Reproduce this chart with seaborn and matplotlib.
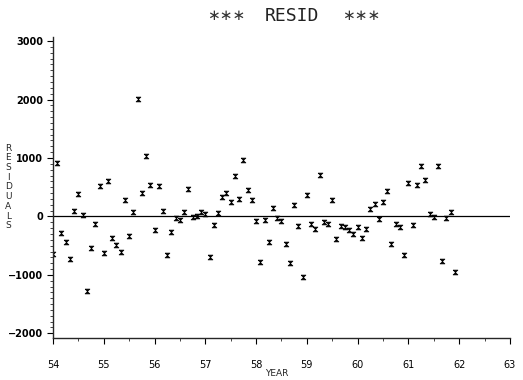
import numpy as np
import pandas as pd
import matplotlib
matplotlib.use("Agg")
import matplotlib.pyplot as plt
from matplotlib.ticker import MultipleLocator
import seaborn as sns

# ==========================================
# DATA (monthly residuals, 1954 - 1961)
# ==========================================

start_year = 54
n_months = 96

resid = [
    -645, 914, -283, -430, -720, 92, 389, 31, -1270, -532, -131, 521,
    -625, 614, -361, -497, -611, 281, -339, 78, 2015, 406, 1035, 540,
    -235, 525, 98, -655, -260, -31, -57, 69, 464, -2, 4, 69,
    41, -690, -140, 66, 331, 406, 253, 694, 294, 958, 458, 288,
    -71, -784, -69, -439, 144, -31, -81, -469, -793, 201, -161, -1030,
    375, -137, -222, 716, -94, -121, 274, -382, -164, -175, -225, -297,
    -181, -364, -220, 123, 217, -51, 246, 436, -476, -132, -182, -661,
    573, -153, 546, 856, 617, 36, -14, 867, -759, -21, 76, -944,
]

year = start_year + np.arange(n_months) / 12.0

df = pd.DataFrame({"year": year, "resid": resid})

y_ticks = [-2000, -1000, 0, 1000, 2000, 3000]
x_ticks = [54, 55, 56, 57, 58, 59, 60, 61, 62, 63]

# ==========================================
# PLOT
# ==========================================

sns.set_style("ticks")
plt.rcParams["font.family"] = ["DejaVu Sans"]

fig = plt.figure(figsize=(5.23, 3.80), dpi=100)
ax = fig.add_axes([0.1013, 0.1105, 0.8737, 0.7921])

# plotter symbol: X with top / bottom bars
marker_verts = [(-1, 1), (1, 1), (-1, -1), (1, -1), (-1, 1)]

sns.scatterplot(
    data=df,
    x="year",
    y="resid",
    marker=marker_verts,
    s=12,
    color="black",
    edgecolor="black",
    linewidth=0.5,
    ax=ax
)

ax.axhline(0, color="black", linewidth=0.9, zorder=0)

ax.set_xlim(54, 63)
ax.set_ylim(-2080, 3070)

ax.set_xticks(x_ticks)
ax.set_xticklabels([str(t) for t in x_ticks])
ax.set_yticks(y_ticks)
ax.set_yticklabels([str(t).replace("-", "\u2212") for t in y_ticks])

ax.xaxis.set_minor_locator(MultipleLocator(0.5))
ax.yaxis.set_minor_locator(MultipleLocator(100))

ax.tick_params(axis="x", which="major", length=4, width=0.8, pad=12,
               labelsize=7, colors="black")
ax.tick_params(axis="x", which="minor", length=2, width=0.6)
ax.tick_params(axis="y", which="major", length=4, width=0.8, pad=3,
               labelsize=7, colors="black")
ax.tick_params(axis="y", which="minor", length=2, width=0.6)

for lbl in ax.get_yticklabels():
    lbl.set_fontweight("bold")

sns.despine(ax=ax)
ax.spines["left"].set_linewidth(1.0)
ax.spines["bottom"].set_linewidth(1.0)

ax.set_xlabel("")
ax.set_ylabel("")

# ==========================================
# TEXTS
# ==========================================

title_y = 0.958
fig.text(0.433, title_y, "\u2217\u2217\u2217", ha="center", va="center",
         fontsize=11, color="#333333")
fig.text(0.559, title_y, "RESID", ha="center", va="center",
         fontsize=13, family="DejaVu Sans Mono", color="#222222")
fig.text(0.690, title_y, "\u2217\u2217\u2217", ha="center", va="center",
         fontsize=11, color="#333333")

fig.text(0.016, 0.508, "\n".join("RESIDUALS"),
         ha="center", va="center", fontsize=6.5, linespacing=1.1)

fig.text(0.53, 0.004, "YEAR", ha="center", va="bottom", fontsize=6.5)

fig.savefig("out.png", dpi=100, facecolor="white")
